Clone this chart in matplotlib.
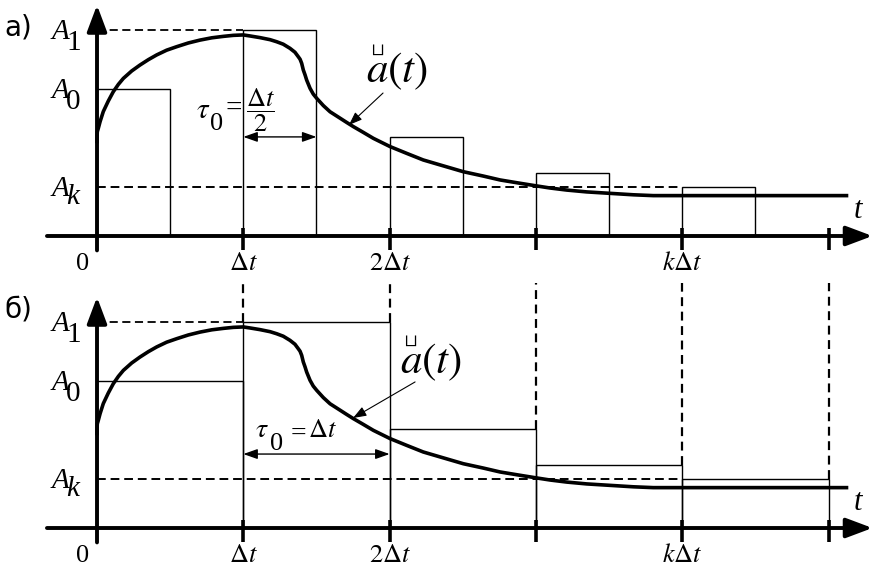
import numpy as np
import matplotlib.pyplot as plt

plt.rcParams['mathtext.fontset'] = 'stix'
plt.rcParams['font.family'] = 'Liberation Serif'

# curve a(t): t in units of dt, amplitude relative to A1
curve_t = [0.0, 0.0, 0.002, 0.009, 0.021, 0.043, 0.077, 0.111, 0.146, 0.18, 0.237,
           0.294, 0.351, 0.408, 0.476, 0.545, 0.624, 0.704, 0.784, 0.863, 0.932, 1.0,
           1.046, 1.114, 1.183, 1.228, 1.273, 1.319, 1.353, 1.376, 1.388, 1.399, 1.41,
           1.422, 1.433, 1.456, 1.478, 1.502, 1.547, 1.593, 1.661, 1.707, 1.752, 1.82,
           1.889, 2.003, 2.117, 2.23, 2.345, 2.504, 2.64, 2.755, 2.891, 3.005, 3.096,
           3.21, 3.347, 3.507, 3.666, 3.802, 5.135]
curve_a = [0.45, 0.474, 0.506, 0.523, 0.555, 0.604, 0.655, 0.7, 0.736, 0.765, 0.801,
           0.83, 0.856, 0.879, 0.902, 0.919, 0.937, 0.951, 0.962, 0.969, 0.974, 0.976,
           0.971, 0.963, 0.953, 0.943, 0.931, 0.911, 0.892, 0.87, 0.858, 0.838, 0.806,
           0.782, 0.757, 0.717, 0.689, 0.668, 0.633, 0.603, 0.572, 0.551, 0.531, 0.503,
           0.474, 0.434, 0.401, 0.369, 0.345, 0.312, 0.291, 0.272, 0.256, 0.243, 0.233,
           0.223, 0.214, 0.207, 0.2, 0.196, 0.196]

A1, A0, Ak = 1.0, 0.714, 0.24
step_starts = [0, 1, 2, 3, 4]
step_levels = [0.714, 1.0, 0.48, 0.306, 0.24]
tick_pos = [1, 2, 3, 4, 5]
tick_labels = [r'$\Delta t$', r'$2\Delta t$', '', r'$k\Delta t$', '']

fig = plt.figure(figsize=(8.78, 5.69), dpi=100)
ax_a = fig.add_axes([0, 297 / 569, 1, 272 / 569])
ax_b = fig.add_axes([0, 0, 1, 297 / 569])
ax_a.set_ylim(-0.1748, 1.1456)
ax_b.set_ylim(-0.199, 1.2427)

dash = (0, (4.5, 2.5))


def draw_common(ax, panel):
    ax.set_xlim(-0.663, 5.338)
    ax.axis('off')
    # axes with arrows
    ax.annotate('', xy=(5.30, 0), xytext=(-0.342, 0),
                arrowprops=dict(arrowstyle='-|>,head_length=0.8,head_width=0.3',
                                lw=2.8, color='k', shrinkA=0, shrinkB=0, mutation_scale=20))
    ax.annotate('', xy=(0, 1.121), xytext=(0, -0.07),
                arrowprops=dict(arrowstyle='-|>,head_length=0.8,head_width=0.3',
                                lw=2.8, color='k', shrinkA=0, shrinkB=0, mutation_scale=20))
    ax.vlines(tick_pos, -0.07, 0.04, color='k', lw=2.6)

    # curve
    ax.plot(curve_t, curve_a, color='k', lw=2.6, solid_joinstyle='round', solid_capstyle='butt')

    # level lines
    ax.plot([0, 1], [A1, A1], color='k', lw=1.3, ls=dash)
    ax.plot([0, 4], [Ak, Ak], color='k', lw=1.4, ls=dash)

    # labels
    for name, sub, lev, sdy in [('A', '1', A1, 0.097), ('A', '0', A0, 0.097), ('A', 'k', Ak, 0.087)]:
        ax.text(-0.31, lev - 0.044, name, fontsize=21, style='italic', va='baseline', ha='left')
        ax.text(-0.212, lev - sdy, sub, fontsize=21, style='italic' if sub == 'k' else 'normal',
                va='baseline', ha='left')
    ax.text(-0.63, 0.975 if panel == 'a' else 1.02, 'а)' if panel == 'a' else 'б)',
            fontsize=20, family='DejaVu Sans', va='baseline', ha='left')
    ax.text(-0.1, -0.165, '0', fontsize=19, ha='center', va='baseline')
    for t, lab in zip(tick_pos, tick_labels):
        if lab:
            ax.text(t, -0.165, lab, fontsize=19, ha='center', va='baseline')
    ax.text(5.2, 0.085, 't', fontsize=22, style='italic', ha='center', va='baseline')


def draw_label(ax, t, a):
    ax.text(t, a, r'$a(t)$', fontsize=31, ha='left', va='baseline')
    ax.text(t + 0.075, a + 0.112, r'$\sqcup$', fontsize=14, ha='center', va='bottom')


draw_common(ax_a, 'a')
draw_common(ax_b, 'b')

# a) pulses of width dt/2
ax_a.bar(step_starts, step_levels, width=0.5, align='edge', fill=False,
         edgecolor='k', linewidth=1.0)
ax_a.annotate('', xy=(1.5, 0.481), xytext=(1.0, 0.481),
              arrowprops=dict(arrowstyle='<|-|>,head_length=0.85,head_width=0.3',
                              lw=1.0, color='k', shrinkA=0, shrinkB=0, mutation_scale=10))
ax_a.text(0.68, 0.573, r'$\tau$', fontsize=21, ha='left', va='baseline')
ax_a.text(0.772, 0.515, '0', fontsize=19, ha='left', va='baseline')
ax_a.text(0.875, 0.583, '=', fontsize=21, ha='left', va='baseline')
ax_a.text(1.12, 0.612, r'$\dfrac{\Delta t}{2}$', fontsize=19, ha='center', va='center')
draw_label(ax_a, 1.84, 0.748)
ax_a.annotate('', xy=(1.722, 0.539), xytext=(1.955, 0.694),
              arrowprops=dict(arrowstyle='-|>,head_length=0.8,head_width=0.3',
                              lw=0.8, color='k', shrinkA=0, shrinkB=0, mutation_scale=10))

# б) steps of width dt
ax_b.bar(step_starts, step_levels, width=1.0, align='edge', fill=False,
         edgecolor='k', linewidth=1.0)
lev_ext = step_levels + [0]
v_top = [max(lev_ext[i - 1], lev_ext[i]) for i in tick_pos]
ax_b.vlines(tick_pos, v_top, 1.19, color='k', lw=1.6, linestyles=(0, (4, 2.5)))
ax_b.annotate('', xy=(2.0, 0.359), xytext=(1.0, 0.359),
              arrowprops=dict(arrowstyle='<|-|>,head_length=0.85,head_width=0.3',
                              lw=1.0, color='k', shrinkA=0, shrinkB=0, mutation_scale=10))
ax_b.text(1.08, 0.442, r'$\tau$', fontsize=20, ha='left', va='baseline')
ax_b.text(1.18, 0.379, '0', fontsize=19, ha='left', va='baseline')
ax_b.text(1.32, 0.425, '=', fontsize=20, ha='left', va='baseline')
ax_b.text(1.445, 0.442, r'$\Delta t$', fontsize=19, ha='left', va='baseline')
draw_label(ax_b, 2.07, 0.752)
ax_b.annotate('', xy=(1.75, 0.534), xytext=(2.174, 0.709),
              arrowprops=dict(arrowstyle='-|>,head_length=0.8,head_width=0.3',
                              lw=0.8, color='k', shrinkA=0, shrinkB=0, mutation_scale=10))

fig.savefig('out.png', dpi=100)
